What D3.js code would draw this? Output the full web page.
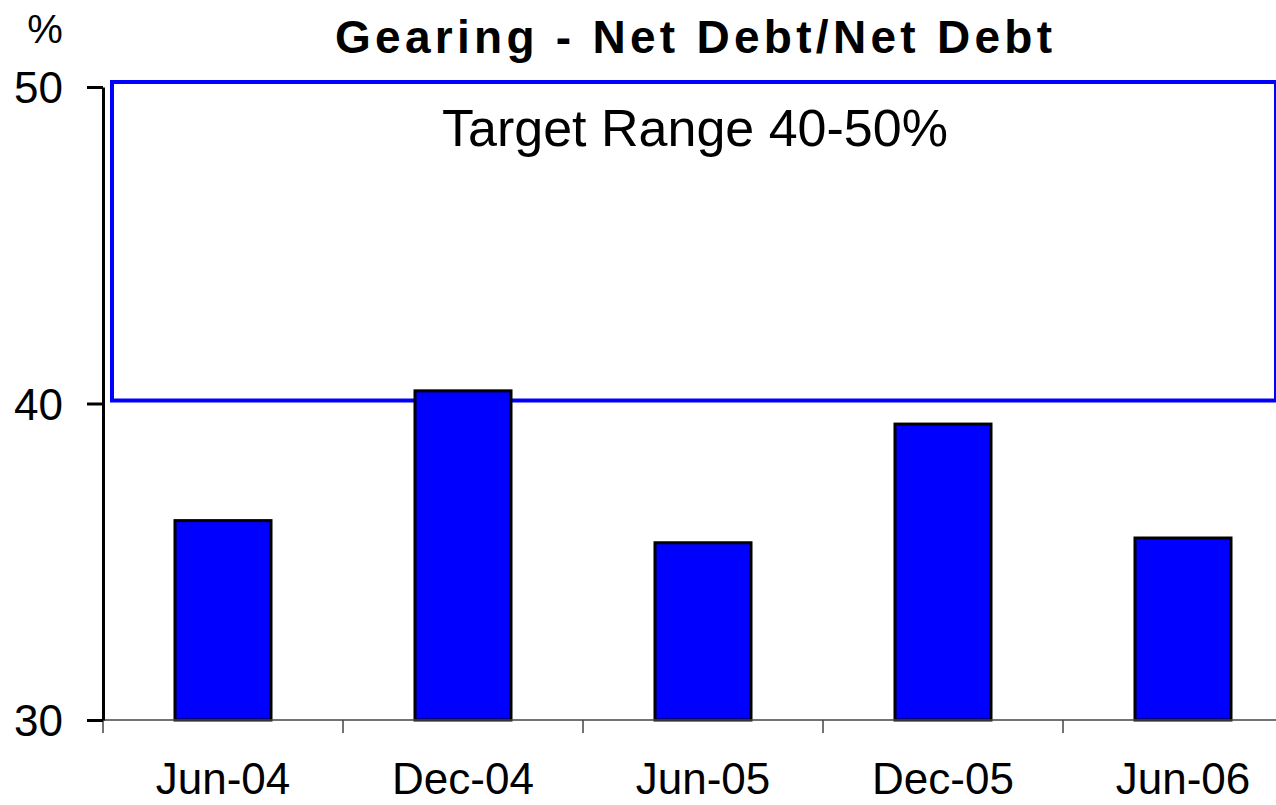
<!DOCTYPE html>
<html>
<head>
<meta charset="utf-8">
<script src="https://cdn.jsdelivr.net/npm/d3@7"></script>
<style>
    body { margin: 0; background: #fff; }
    text { font-family: "Liberation Sans", Arial, sans-serif; fill: #000; }
</style>
</head>
<body>
<div id="chart"></div>
<script>
(function() {
    // Data
    var categories = ["Jun-04", "Dec-04", "Jun-05", "Dec-05", "Jun-06"];
    var gearing = [36.3, 40.4, 35.6, 39.35, 35.75];
    var yTicks = [30, 40, 50];
    var targetRange = [40, 50];

    var width = 1276, height = 805;

    var svg = d3.select("#chart")
        .append("svg")
        .attr("width", width)
        .attr("height", height);

    // Scales
    var yScale = d3.scaleLinear().domain([30, 50]).range([720, 87]);
    var xScale = d3.scaleBand()
        .domain(categories)
        .range([103, 1303])
        .paddingInner(0.6)
        .paddingOuter(0.3);

    // Title
    svg.append("text")
        .attr("x", 335)
        .attr("y", 53)
        .attr("textLength", 717)
        .attr("lengthAdjust", "spacing")
        .style("font-size", "46px")
        .style("font-weight", "bold")
        .text("Gearing - Net Debt/Net Debt");

    svg.append("text")
        .attr("x", 45)
        .attr("y", 43)
        .attr("text-anchor", "middle")
        .style("font-size", "40px")
        .text("%");

    // Target range box
    svg.append("rect")
        .attr("x", 112)
        .attr("y", yScale(targetRange[1]) - 5)
        .attr("width", 1164)
        .attr("height", yScale(targetRange[0]) - yScale(targetRange[1]) + 2)
        .attr("fill", "none")
        .attr("stroke", "#0000ff")
        .attr("stroke-width", 4);

    svg.append("text")
        .attr("x", 695)
        .attr("y", 146)
        .attr("text-anchor", "middle")
        .style("font-size", "52px")
        .text("Target Range " + targetRange[0] + "-" + targetRange[1] + "%");

    // Bars
    svg.selectAll(".bar")
        .data(gearing)
        .enter().append("rect")
        .attr("class", "bar")
        .attr("x", function(d, i) { return xScale(categories[i]); })
        .attr("y", function(d) { return yScale(d); })
        .attr("width", xScale.bandwidth())
        .attr("height", function(d) { return yScale(30) - yScale(d); })
        .attr("fill", "#0000ff")
        .attr("stroke", "#000")
        .attr("stroke-width", 3);

    // X axis (gray line with ticks between categories)
    svg.append("line")
        .attr("x1", 103).attr("x2", width)
        .attr("y1", yScale(30)).attr("y2", yScale(30))
        .attr("stroke", "#444")
        .attr("stroke-width", 1.5);

    var xBounds = d3.range(categories.length + 1).map(function(i) {
        return xScale.range()[0] + i * xScale.step();
    });
    svg.selectAll(".xtick")
        .data(xBounds)
        .enter().append("line")
        .attr("class", "xtick")
        .attr("x1", function(d) { return d; })
        .attr("x2", function(d) { return d; })
        .attr("y1", yScale(30))
        .attr("y2", yScale(30) + 13)
        .attr("stroke", "#444")
        .attr("stroke-width", 1.5);

    svg.selectAll(".xlabel")
        .data(categories)
        .enter().append("text")
        .attr("class", "xlabel")
        .attr("x", function(d) { return xScale(d) + xScale.bandwidth() / 2; })
        .attr("y", 794)
        .attr("text-anchor", "middle")
        .style("font-size", "44px")
        .text(function(d) { return d; });

    // Y axis
    var yAxis = d3.axisLeft(yScale)
        .tickValues(yTicks)
        .tickSize(16)
        .tickPadding(24)
        .tickSizeOuter(0);

    var gy = svg.append("g")
        .attr("transform", "translate(103,0)")
        .call(yAxis);
    gy.select(".domain").attr("stroke", "#000").attr("stroke-width", 3);
    gy.selectAll(".tick line").attr("stroke", "#000").attr("stroke-width", 3);
    gy.selectAll(".tick text")
        .attr("dy", "0.36em")
        .style("font-size", "44px")
        .style("font-family", "'Liberation Sans', Arial, sans-serif");
})();
</script>
</body>
</html>
